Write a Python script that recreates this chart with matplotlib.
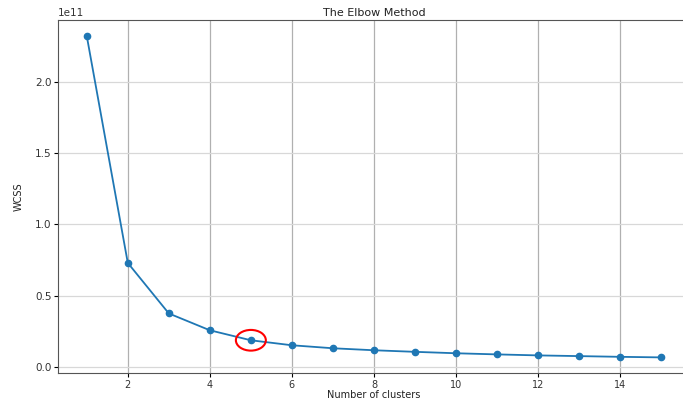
import matplotlib
matplotlib.use("Agg")
import matplotlib.pyplot as plt
from matplotlib.patches import Ellipse

clusters = list(range(1, 16))
wcss = [2.32e11, 0.73e11, 0.376e11, 0.258e11, 0.188e11, 0.153e11, 0.132e11,
        0.118e11, 0.107e11, 0.097e11, 0.089e11, 0.082e11, 0.077e11, 0.072e11, 0.068e11]
highlight_k = 5

fig = plt.figure(figsize=(6.83, 3.99), dpi=100)
ax = fig.add_axes([0.085, 0.064, 0.925, 0.886])
ax.plot(clusters, wcss, marker='o', markersize=4.5, color='#1f77b4', linewidth=1.3)
ax.set_title("The Elbow Method", fontsize=8, pad=3, color='#222222')
ax.set_xlabel("Number of clusters", fontsize=7, labelpad=0, color='#222222')
ax.set_ylabel("WCSS", fontsize=7, labelpad=8, color='#222222')
ax.tick_params(labelsize=7.5, length=3, pad=1.5, labelcolor='#333333')
ax.tick_params(axis='x', labelsize=7)
ax.xaxis.grid(True, color='#b0b0b0', linewidth=0.9)
ax.yaxis.grid(True, color='#d8d8d8', linewidth=0.9)
ax.yaxis.get_offset_text().set_fontsize(7.5)
for s in ax.spines.values():
    s.set_color('#555555')

i = clusters.index(highlight_k)
ax.add_patch(Ellipse((clusters[i], wcss[i]), width=0.73, height=0.145e11,
                     fill=False, edgecolor='red', linewidth=1.5, zorder=5))
fig.savefig("out.png", dpi=100)
